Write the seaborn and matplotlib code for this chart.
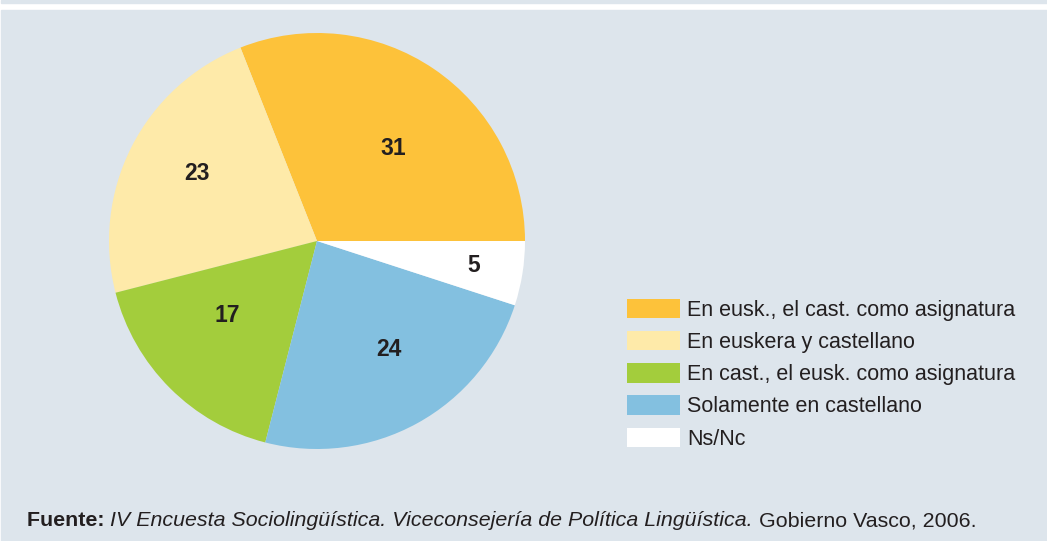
import matplotlib
matplotlib.use("Agg")
import matplotlib.pyplot as plt
import numpy as np
import seaborn as sns

# Distribution of responses (%)
categories = [
    "En eusk., el cast. como asignatura",
    "En euskera y castellano",
    "En cast., el eusk. como asignatura",
    "Solamente en castellano",
    "Ns/Nc",
]
values = [31, 23, 17, 24, 5]
colors = ["#fdc23a", "#feeaa9", "#a3cd3c", "#83c0e0", "#ffffff"]
# label placement inside each wedge: radial distance and angular nudge (deg)
label_dist = [0.585, 0.665, 0.557, 0.616, 0.762]
label_nudge = [-4.5, -3.0, -6.0, 5.4, 1.0]

sns.set_theme(style="white")
plt.rcParams["font.family"] = ["Liberation Sans", "DejaVu Sans"]

BG = "#dde5ec"
TXT = "#231f20"
W, H = 1047, 541
fig = plt.figure(figsize=(W / 100, H / 100), dpi=100)
fig.patch.set_facecolor("white")

# background panel and thin top band
fig.add_artist(plt.Rectangle((1 / W, 0), 1 - 1 / W, (H - 10) / H,
                             transform=fig.transFigure, color=BG, zorder=0))
fig.add_artist(plt.Rectangle((1 / W, (H - 3) / H), 1 - 1 / W, 3 / H,
                             transform=fig.transFigure, color=BG, zorder=0))

cx, cy, r = 317, H - 241, 208
ax = fig.add_axes([(cx - r) / W, (cy - r) / H, 2 * r / W, 2 * r / H])
ax.set_facecolor("none")
wedges, _ = ax.pie(values, colors=colors, startangle=0, counterclock=True,
                   radius=1, wedgeprops=dict(linewidth=0))
ax.set_xlim(-1, 1)
ax.set_ylim(-1, 1)
ax.set_aspect("equal")
ax.axis("off")

for w, v, d, n in zip(wedges, values, label_dist, label_nudge):
    ang = np.deg2rad((w.theta1 + w.theta2) / 2 + n)
    ax.text(d * np.cos(ang), d * np.sin(ang) - 0.01, str(v), ha="center", va="center",
            fontsize=16.5, fontweight="bold", color=TXT)

leg = fig.legend(wedges, categories, loc="upper left",
                 bbox_to_anchor=(627 / W, (H - 299) / H),
                 frameon=False, fontsize=15.5, handlelength=2.46, handleheight=1.0,
                 handletextpad=0.33, labelspacing=0.47, borderpad=0, borderaxespad=0)
for t in leg.get_texts():
    t.set_color(TXT)

# source line built from differently styled pieces
fig.canvas.draw()
renderer = fig.canvas.get_renderer()
pieces = [
    ("Fuente: ", dict(fontweight="bold")),
    ("IV Encuesta Sociolingüística. Viceconsejería de Política Lingüística.", dict(fontstyle="italic")),
    (" Gobierno Vasco, 2006.", dict()),
]
x = 27
for s, kw in pieces:
    t = fig.text(x / W, (H - 521) / H, s, fontsize=15.4, color=TXT,
                 va="center", ha="left", **kw)
    bb = t.get_window_extent(renderer=renderer)
    x += bb.width

fig.savefig("out.png", dpi=100, facecolor=fig.get_facecolor())
